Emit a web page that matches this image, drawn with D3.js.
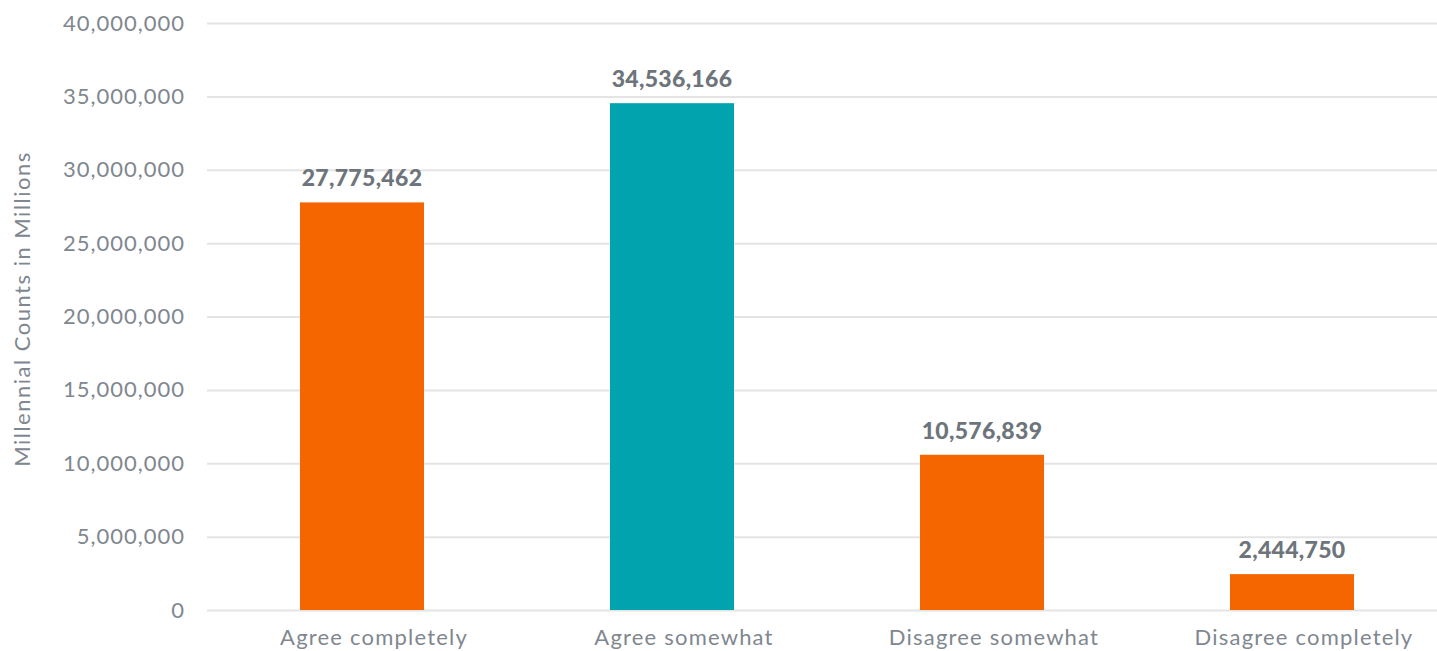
<!DOCTYPE html>
<html><head><meta charset="utf-8">
<script src="https://cdn.jsdelivr.net/npm/d3@7"></script>
<style>body{margin:0;background:#fff;overflow:hidden}svg{display:block}</style>
</head><body>
<script>
const categories = ["Agree completely","Agree somewhat","Disagree somewhat","Disagree completely"];
const values = [27775462, 34536166, 10576839, 2444750];
const barColors = ["#F56600","#00A3AE","#F56600","#F56600"];
const yTicks = [0,5000000,10000000,15000000,20000000,25000000,30000000,35000000,40000000];
const yTitle = "Millennial Counts in Millions";

const W=1437,H=651;
const font = "Lato, 'Open Sans', sans-serif";
const grey="#80878f";
const svg=d3.select("body").append("svg").attr("width",W).attr("height",H);
const x=d3.scaleBand().domain(categories).range([207,1447]).paddingInner(0.6).paddingOuter(0.3);
const y=d3.scaleLinear().domain([0,40000000]).range([610,23]);
const fmt=d3.format(",");

const yAxis=svg.append("g").attr("transform","translate(207,0)")
  .call(d3.axisLeft(y).tickValues(yTicks).tickSize(-(W-207)).tickPadding(22).tickFormat(fmt));
yAxis.select(".domain").remove();
yAxis.selectAll("line").attr("stroke","#e4e4e4").attr("stroke-width",2);
yAxis.selectAll("text").attr("fill",grey).style("font-family",font).style("font-size","22px").style("letter-spacing","1px");

svg.selectAll("rect.bar").data(values).enter().append("rect").attr("class","bar")
  .attr("x",(d,i)=>x(categories[i])).attr("width",x.bandwidth())
  .attr("y",d=>y(d)).attr("height",d=>y(0)-y(d)).attr("fill",(d,i)=>barColors[i]);

svg.selectAll("text.val").data(values).enter().append("text").attr("class","val")
  .attr("x",(d,i)=>x(categories[i])+x.bandwidth()/2).attr("y",d=>y(d)-16)
  .attr("text-anchor","middle").attr("fill","#6d747b").style("font-family",font)
  .style("font-weight","900").style("font-size","23px").style("letter-spacing","0.3px").text(d=>fmt(d));

const xAxis=svg.append("g").attr("transform","translate(12,610)")
  .call(d3.axisBottom(x).tickSize(0).tickPadding(19));
xAxis.select(".domain").remove();
xAxis.selectAll("text").attr("fill",grey).style("font-family",font).style("font-size","22px").style("letter-spacing","1.2px");

svg.append("text").attr("transform","translate(30,309) rotate(-90)").attr("text-anchor","middle")
  .attr("fill",grey).style("font-family",font).style("font-size","22px").style("letter-spacing","1.5px").text(yTitle);
</script>
</body></html>
